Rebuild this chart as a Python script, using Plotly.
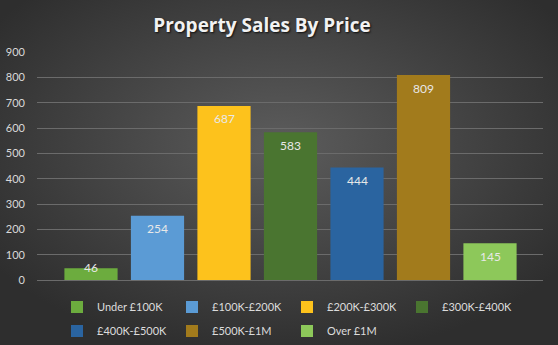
import base64
import plotly.graph_objects as go

categories = ["Under £100K", "£100K-£200K", "£200K-£300K", "£300K-£400K",
              "£400K-£500K", "£500K-£1M", "Over £1M"]
sales = [46, 254, 687, 583, 444, 809, 145]
colors = ["#6cac3e", "#5b9bd5", "#fdc21c", "#4a7530", "#2a64a0", "#a27b1c", "#8dc85a"]
y_ticks = [0, 100, 200, 300, 400, 500, 600, 700, 800, 900]
title_text = "Property Sales By Price"

W, H = 558, 345
ML, MR, MT, MB = 37, 15, 52, 65
PW, PH = W - ML - MR, H - MT - MB

fig = go.Figure()
for i, (name, val, col) in enumerate(zip(categories, sales, colors)):
    fig.add_trace(go.Bar(
        x=[name], y=[val], name=name,
        marker=dict(color=col, line=dict(width=0)),
        width=0.8,
        legend="legend" if i < 4 else "legend2",
        hoverinfo="skip",
    ))
    bar_px = val * PH / y_ticks[-1]
    fig.add_annotation(
        x=name, y=val, text=str(val), showarrow=False,
        yanchor="middle", yshift=(-13 if bar_px > 28 else 1),
        font=dict(family="Lato", size=12, color="#e8e8e8"),
    )

# radial-gradient background
svg = (
    '<svg xmlns="http://www.w3.org/2000/svg" width="558" height="345" '
    'viewBox="0 0 558 345" preserveAspectRatio="none">'
    '<defs><radialGradient id="g" cx="50%" cy="42%" r="62%">'
    '<stop offset="0%" stop-color="rgb(92,92,92)"/>'
    '<stop offset="100%" stop-color="rgb(46,46,46)"/>'
    '</radialGradient></defs>'
    '<rect width="558" height="345" fill="url(#g)"/></svg>'
)
src = "data:image/svg+xml;base64," + base64.b64encode(svg.encode()).decode()

legend_font = dict(family="Lato", size=11, color="#dcdcdc")
LX = (57 - ML) / PW

fig.update_layout(
    width=W, height=H,
    margin=dict(l=ML, r=MR, t=MT, b=MB, autoexpand=False),
    paper_bgcolor="#3a3a3a",
    plot_bgcolor="rgba(0,0,0,0)",
    barmode="overlay",
    images=[dict(source=src, xref="paper", yref="paper",
                 x=-ML / PW, y=1 + MT / PH, sizex=W / PW, sizey=H / PH,
                 xanchor="left", yanchor="top", sizing="stretch", layer="below")],
    title=dict(text="<b>" + title_text + "</b>", x=262 / W, xanchor="center",
               y=1 - 25 / H, yanchor="middle",
               font=dict(family="Open Sans", size=19, color="#f2f2f2",
                         shadow="1px 1px 2px rgba(0,0,0,0.8)")),
    xaxis=dict(type="category", categoryorder="array", categoryarray=categories,
               range=[-0.812, 6.797], showticklabels=False, showgrid=False,
               zeroline=False, showline=False, fixedrange=True),
    yaxis=dict(range=[0, 900], tickvals=y_ticks, showgrid=True,
               gridcolor="#6b6b6b", gridwidth=1, zeroline=True,
               zerolinecolor="#6b6b6b", zerolinewidth=1, showline=False,
               ticklabelstandoff=11,
               tickfont=dict(family="Lato", size=11, color="#d9d9d9")),
    legend=dict(orientation="h", x=LX, xanchor="left",
                y=-(307 - 280) / PH, yanchor="middle", entrywidth=70,
                font=legend_font, bgcolor="rgba(0,0,0,0)", itemclick=False),
    legend2=dict(orientation="h", x=LX, xanchor="left",
                 y=-(331 - 280) / PH, yanchor="middle", entrywidth=70,
                 font=legend_font, bgcolor="rgba(0,0,0,0)", itemclick=False),
    showlegend=True,
)

fig.write_html("out.html")
